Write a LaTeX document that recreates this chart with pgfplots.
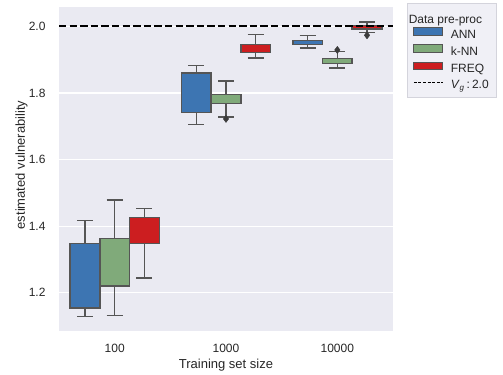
\documentclass[border=0pt]{standalone}
\usepackage{pgfplots}
\pgfplotsset{compat=1.18}
\usepackage{fontspec}
\setmainfont{Liberation Sans}

\definecolor{panel}{HTML}{EAEAF2}
\definecolor{edgegray}{HTML}{555555}
\definecolor{outgray}{HTML}{3C3C3C}
\definecolor{labelgray}{HTML}{262626}
\definecolor{annblue}{RGB}{61,117,178}
\definecolor{knngreen}{RGB}{128,170,122}
\definecolor{freqred}{RGB}{204,30,32}
\definecolor{legbg}{HTML}{F0F0F6}
\definecolor{legedge}{HTML}{D4D4DC}

\pgfplotsset{
  patch legend/.style={legend image code/.code={\draw[##1] (0pt,-0.2pt) rectangle (29pt,7.6pt);}},
  dash legend/.style={legend image code/.code={\draw[##1] (0pt,3.6pt) -- (29pt,3.6pt);}},
}

% one box: position, fill, lower whisker, lower quartile, upper quartile, upper whisker
\newcommand{\drawbox}[6]{%
  \pgfmathsetmacro\xa{#1-0.1333}\pgfmathsetmacro\xb{#1+0.1333}%
  \pgfmathsetmacro\ca{#1-0.0715}\pgfmathsetmacro\cb{#1+0.0715}%
  \addplot[forget plot, edgegray, line width=1.4pt, unbounded coords=jump]
    coordinates {(#1,#5) (#1,#6) (#1,nan) (\ca,#6) (\cb,#6) (#1,nan)
                 (#1,#4) (#1,#3) (#1,nan) (\ca,#3) (\cb,#3)};
  \addplot[forget plot, fill=#2, draw=edgegray, line width=1.4pt, line cap=rect]
    coordinates {(\xa,#4) (\xb,#4) (\xb,#5) (\xa,#5) (\xa,#4)};
}

\begin{document}
\begin{tikzpicture}
\path (0pt,0pt) rectangle (503pt,374pt);
\begin{axis}[
  at={(59pt,43pt)}, anchor=south west,
  scale only axis, width=334pt, height=324pt,
  xmin=-0.5, xmax=2.5, ymin=1.085, ymax=2.058,
  axis background/.style={fill=panel},
  axis line style={draw=none},
  tick style={draw=none},
  ymajorgrids, grid style={white, line width=1.2pt},
  xtick={0,1,2}, xticklabels={100,1000,10000},
  ytick={1.2,1.4,1.6,1.8,2.0}, yticklabels={1.2,1.4,1.6,1.8,2.0},
  tick label style={font=\fontsize{12}{14}\selectfont, text=labelgray},
  xticklabel style={yshift=-10pt},
  yticklabel style={xshift=-10pt},
  xlabel={Training set size}, ylabel={estimated vulnerability},
  label style={font=\fontsize{13}{15}\selectfont, text=labelgray},
  x label style={at={(axis description cs:0.5,0)}, anchor=north, yshift=-25pt},
  y label style={at={(axis description cs:0,0.5)}, anchor=south, yshift=28pt, xshift=4pt},
  legend cell align=left,
  legend style={at={(1,1)}, anchor=north west, xshift=14pt, yshift=4pt,
    fill=legbg, draw=legedge, line width=0.8pt,
    font=\fontsize{12}{14}\selectfont, text=labelgray,
    row sep=2.2pt, inner xsep=6pt, inner ysep=4.5pt,
    nodes={inner sep=1.5pt, text height=8.6pt, text depth=2.5pt},
    /tikz/every odd column/.append style={column sep=6pt}},
]

% training set size 100
\drawbox{-0.2667}{annblue}{1.128}{1.154}{1.348}{1.416}
\drawbox{0}{knngreen}{1.131}{1.220}{1.363}{1.478}
\drawbox{0.2667}{freqred}{1.244}{1.347}{1.425}{1.452}
% training set size 1000
\drawbox{0.7333}{annblue}{1.706}{1.741}{1.860}{1.882}
\drawbox{1}{knngreen}{1.728}{1.768}{1.796}{1.836}
\drawbox{1.2667}{freqred}{1.905}{1.921}{1.945}{1.975}
% training set size 10000
\drawbox{1.7333}{annblue}{1.935}{1.946}{1.957}{1.972}
\drawbox{2}{knngreen}{1.875}{1.888}{1.903}{1.924}
\drawbox{2.2667}{freqred}{1.981}{1.992}{2.003}{2.013}

% outliers
\addplot[forget plot, only marks, mark=diamond*, mark size=3.6pt,
  mark options={fill=outgray, draw=outgray, line width=0.4pt}]
  coordinates {(1,1.722) (2,1.929) (2.2667,1.973)};

% reference level V_g = 2.0
\addplot[forget plot, black, line width=2pt, dash pattern=on 7.4pt off 3.2pt]
  coordinates {(-0.5,2.0) (2.5,2.0)};

\addlegendimage{legend image code/.code={}}
\addlegendentry[text height=14pt, text depth=0pt]{\makebox[0pt][l]{\hspace{-42pt}Data pre-proc}}
\addlegendimage{patch legend, fill=annblue, draw=edgegray, line width=0.8pt}
\addlegendentry{ANN}
\addlegendimage{patch legend, fill=knngreen, draw=edgegray, line width=0.8pt}
\addlegendentry{k-NN}
\addlegendimage{patch legend, fill=freqred, draw=edgegray, line width=0.8pt}
\addlegendentry{FREQ}
\addlegendimage{dash legend, black, line width=0.9pt, dash pattern=on 3pt off 1.6pt}
\addlegendentry{\textit{V}\textsubscript{\textit{g}}\,:\,2.0}
\end{axis}
\end{tikzpicture}
\end{document}
